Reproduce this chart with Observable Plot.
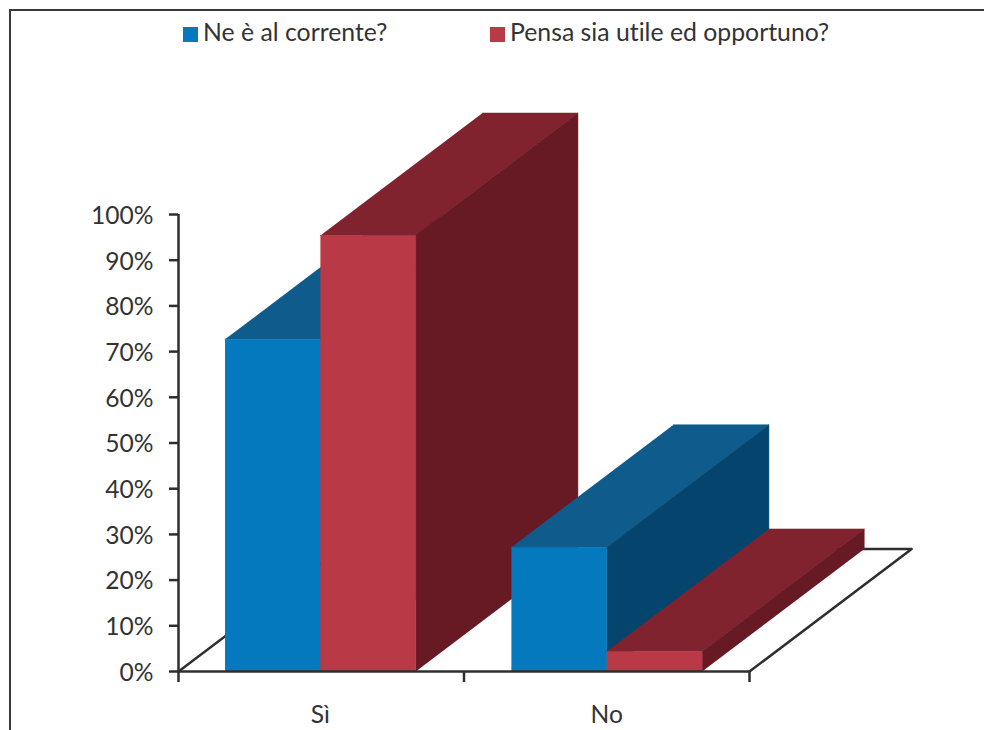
<!DOCTYPE html>
<html lang="it">
<head>
<meta charset="utf-8">
<script src="https://cdn.jsdelivr.net/npm/d3@7"></script>
<script src="https://cdn.jsdelivr.net/npm/@observablehq/plot@0.6"></script>
<style>
  html, body { margin: 0; padding: 0; background: #fff; }
  #page { position: relative; width: 984px; height: 730px; overflow: hidden; font-family: Lato, "Open Sans", sans-serif; color: #333; font-variant-ligatures: none; }
  #page::before { content: ""; position: absolute; left: 9px; top: 8.5px; right: -4px; bottom: -4px; border: 2px solid #3a3a3a; box-sizing: border-box; pointer-events: none; }
  #legend { position: relative; height: 60px; font-size: 24.8px; }
  #legend span.item { position: absolute; top: 17px; line-height: 30px; white-space: nowrap; }
  #legend i { position: absolute; left: -20px; top: 10px; width: 14.5px; height: 15px; }
  svg { display: block; }
</style>
</head>
<body>
<div id="page">
  <div id="legend"></div>
  <div id="chart"></div>
</div>
<script>
// Survey answers, in percent.
const categories = ["Sì", "No"];
const seriesNames = ["Ne è al corrente?", "Pensa sia utile ed opportuno?"];
const awareValues = [72.7, 27.2];
const usefulValues = [95.4, 4.4];
const percentTicks = [0, 10, 20, 30, 40, 50, 60, 70, 80, 90, 100];

// Shades per series: front, top and side of each box.
const shades = [
  {front: "#0479bd", top: "#0f5b8b", side: "#05446c"},
  {front: "#ba3946", top: "#80232e", side: "#671a24"}
];
const ink = "#2e2e2e";
const fontSize = 24.6;

// Box geometry in scale units: x counts categories, y counts percent.
const barWidth = 0.334;
const centers = [0.497, 1.5];
const depthX = 0.568;
const depthY = 26.8;

// One polygon per box face, back to front, so that nearer boxes paint over farther ones.
const faces = [];
function addFace(id, color, corners) {
  for (const [x, y] of corners) faces.push({id, color, x, y});
}
categories.forEach((category, c) => {
  [awareValues, usefulValues].forEach((values, s) => {
    const v = values[c];
    const x0 = centers[c] + (s - 1) * barWidth;
    const x1 = x0 + barWidth;
    const key = `${c}-${s}`;
    addFace(key + "-top", shades[s].top, [[x0, v], [x1, v], [x1 + depthX, v + depthY], [x0 + depthX, v + depthY]]);
    addFace(key + "-side", shades[s].side, [[x1, 0], [x1, v], [x1 + depthX, v + depthY], [x1 + depthX, depthY]]);
    addFace(key + "-front", shades[s].front, [[x0, 0], [x1, 0], [x1, v], [x0, v]]);
  });
});

// Outline of the floor behind the boxes.
const floor = [[0, 0], [depthX, depthY], [2 + depthX, depthY], [2, 0]].map(([x, y]) => ({x, y}));

const chart = Plot.plot({
  width: 984,
  height: 670,
  marginLeft: 178,
  marginRight: 235,
  marginTop: 154,
  marginBottom: 59,
  style: {fontFamily: "Lato, 'Open Sans', sans-serif", fontSize: fontSize + "px", color: "#333", background: "transparent"},
  x: {domain: [0, 2]},
  y: {domain: [0, 100]},
  color: {type: "identity"},
  marks: [
    Plot.line(floor, {x: "x", y: "y", stroke: ink, strokeWidth: 2.5}),
    Plot.line(faces, {x: "x", y: "y", z: "id", fill: "color", stroke: "color", strokeWidth: 0.5}),
    Plot.axisY({ticks: percentTicks, tickFormat: () => "", tickSize: 9, label: null, strokeWidth: 2.5, stroke: ink}),
    Plot.axisY({ticks: percentTicks, tickFormat: d => d + "%", tickSize: 0, tickPadding: 25, dy: 1.5, label: null, fill: "#333", fontSize}),
    Plot.axisX({ticks: [0, 1, 2], tickSize: 11, tickFormat: () => "", label: null, strokeWidth: 2.5, stroke: ink}),
    Plot.axisX({ticks: centers, tickSize: 0, tickPadding: 34, tickFormat: (d, i) => categories[i], label: null, fill: "#333", fontSize}),
    Plot.ruleX([0], {y1: 0, y2: 100, stroke: ink, strokeWidth: 2.5}),
    Plot.ruleY([0], {stroke: ink, strokeWidth: 2.5})
  ]
});
document.getElementById("chart").append(chart);

// Legend row above the chart.
const legendX = [203, 510];
const legend = document.getElementById("legend");
seriesNames.forEach((name, i) => {
  const item = document.createElement("span");
  item.className = "item";
  item.style.left = legendX[i] + "px";
  item.textContent = name;
  const swatch = document.createElement("i");
  swatch.style.background = shades[i].front;
  item.append(swatch);
  legend.append(item);
});
</script>
</body>
</html>
